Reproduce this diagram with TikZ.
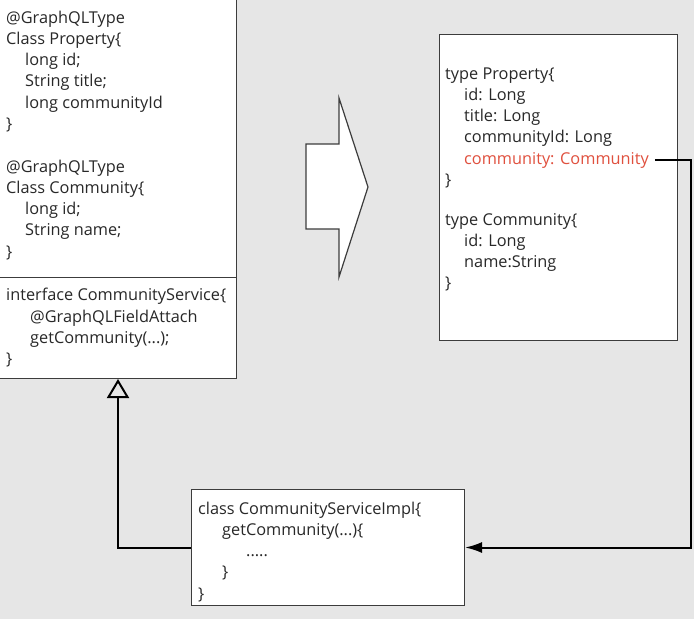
\documentclass[tikz,border=0pt]{standalone}
\usepackage{fontspec}
\setmainfont{Open Sans}
\usetikzlibrary{arrows.meta, positioning}
\definecolor{diagbg}{RGB}{230,230,230}
\definecolor{diagline}{RGB}{60,60,60}
\definecolor{diagtext}{RGB}{40,40,40}
\definecolor{diagred}{RGB}{224,80,62}
\newcommand{\codeind}[1]{\hspace*{#1pt}}

\begin{document}
\begin{tikzpicture}[x=1pt, y=-1pt,
		frame/.style={draw=diagline, line width=1pt, fill=white, anchor=north west, inner sep=0pt},
		code/.style={anchor=north west, inner sep=0pt, align=left, text=diagtext, font=\fontsize{16.3}{21.2}\selectfont, execute at begin node=\strut},
		conn/.style={draw=black, line width=2pt}]
		\useasboundingbox (0,0) rectangle (694,619);
		\fill[diagbg] (0,0) rectangle (694,619);
		\node[frame, minimum width=237pt, minimum height=278pt] (types) at (-1,-1) {};
		\node[frame, minimum width=237pt, minimum height=101pt] (iface) at (-1,277) {};
		\node[frame, minimum width=238pt, minimum height=306pt] (gqlbox) at (439,34) {};
		\node[frame, minimum width=273pt, minimum height=116pt] (impl) at (191,489) {};
		\node[code] (propcls) at (6,10.7) {@GraphQLType\\Class Property\{\\\codeind{19}long id;\\\codeind{19}String title;\\\codeind{19}long communityId\\\}};
		\node[code] (commcls) at (6,159.7) {@GraphQLType\\Class Community\{\\\codeind{19}long id;\\\codeind{19}String name;\\\}};
		\node[code] (svctext) at (6,288.2) {interface CommunityService\{\\\codeind{24}@GraphQLFieldAttach\\\codeind{24}getCommunity(...);\\\}};
		\node[code] (propgql) at (445,67.2) {type Property\{\\\codeind{19}id: Long\\\codeind{19}title: Long\\\codeind{19}communityId: Long\\\phantom{x}\\\}};
		\node[code, text=diagred] (commfield) at (464,149.6) {community: Community};
		\node[code] (commgql) at (445,213.2) {type Community\{\\\codeind{19}id: Long\\\codeind{19}name:String\\\}};
		\node[code] (impltext) at (198,501.7) {class CommunityServiceImpl\{\\\codeind{24}getCommunity(...)\{\\\codeind{48}.....\\\codeind{24}\}\\\}};
		\fill[white, draw=diagline, line width=1.2pt] (306,144) -- (339,144) -- (339,98) -- (368,187) -- (339,277) -- (339,229) -- (306,229) -- cycle;
		\coordinate (rail) at (691,0);
		\draw[conn, -{Triangle[open, length=19pt, width=22pt]}] (impl.west) -| (iface.south);
		\draw[conn, -{Latex[length=17pt, width=11pt]}, shorten <=6pt] (commfield.east) -- (commfield.east -| rail) |- (impl.east);
	\end{tikzpicture}
\end{document}
